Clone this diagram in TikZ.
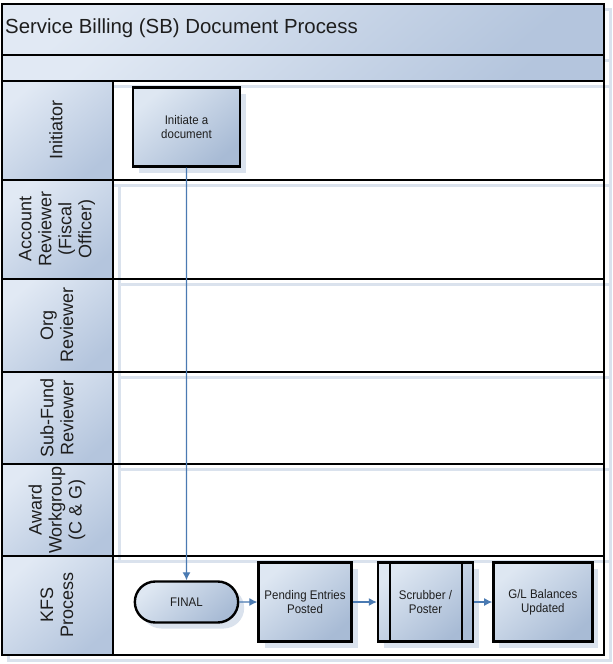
\documentclass[tikz,border=0pt]{standalone}
\usepackage{fontspec}
\setmainfont{Liberation Sans}
\newfontfamily\boxfont[FakeStretch=0.92]{Liberation Sans}
\usetikzlibrary{shapes,arrows.meta,positioning,shadows}
\definecolor{bandlight}{RGB}{225,233,244}
\definecolor{banddark}{RGB}{180,197,221}
\definecolor{boxlight}{RGB}{222,231,242}
\definecolor{boxdark}{RGB}{168,187,213}
\definecolor{shadowblue}{RGB}{218,226,237}
\definecolor{arrowblue}{RGB}{74,122,178}
\definecolor{textgray}{RGB}{30,30,30}
\tikzset{
    %Define standard arrow tip
    >={Latex[length=8pt,width=8pt]},
    %Define style for the bands and lane heads
    band/.style={
           draw=black,
           line width=2pt,
           top color=bandlight,
           bottom color=banddark,
           shading angle=40},
    lanebody/.style={
           draw=black,
           line width=2pt},
    laneshadow/.style={
           draw=shadowblue,
           line width=3pt},
    lanelabel/.style={
           rotate=90,
           align=center,
           text=textgray,
           font=\fontsize{18}{20}\selectfont},
    %Define style for boxes
    block/.style={
           rectangle,
           draw=black,
           line width=2.4pt,
           minimum width=107pt,
           minimum height=79pt,
           align=center,
           text=textgray,
           font=\boxfont\fontsize{12.5}{13.8}\selectfont,
           top color=boxlight,
           bottom color=boxdark,
           shading angle=40,
           drop shadow={shadow xshift=6pt, shadow yshift=-6pt,
                        fill=shadowblue, opacity=1}},
    terminal/.style={
           block,
           rounded rectangle,
           minimum width=110pt,
           minimum height=41pt},
    % Define arrow style
    arrow/.style={
           ->,
           draw=arrowblue,
           line width=1.2pt,
           }
}
\begin{document}
\begin{tikzpicture}[x=1pt, y=-1pt, node distance=18pt]
    \useasboundingbox (0,0) rectangle (613,664);
    \fill[white] (0,0) rectangle (613,664);

    % shadows of the lanes
    \draw[laneshadow] (8,9) rectangle (610,60);
    \draw[laneshadow] (8,60) rectangle (610,86);
    \draw[laneshadow] (8,86) rectangle (610,185);
    \draw[laneshadow] (119,185) rectangle (610,284);
    \draw[laneshadow] (119,284) rectangle (610,377);
    \draw[laneshadow] (119,377) rectangle (610,469);
    \draw[laneshadow] (119,469) rectangle (610,561);
    \draw[laneshadow] (8,561) rectangle (610,660);

    % title bands
    \draw[band] (2,4) rectangle (604,55);
    \draw[band] (2,55) rectangle (604,81);
    \node[anchor=west, inner sep=1pt, text=textgray,
          font=\fontsize{20.4}{23}\selectfont] (title) at (4,28)
          {Service Billing (SB) Document Process};

    % lanes
    \draw[band] (2,81) rectangle (113,180);
    \draw[lanebody] (113,81) rectangle (604,180);
    \draw[band] (2,180) rectangle (113,279);
    \draw[lanebody] (113,180) rectangle (604,279);
    \draw[band] (2,279) rectangle (113,372);
    \draw[lanebody] (113,279) rectangle (604,372);
    \draw[band] (2,372) rectangle (113,464);
    \draw[lanebody] (113,372) rectangle (604,464);
    \draw[band] (2,464) rectangle (113,556);
    \draw[lanebody] (113,464) rectangle (604,556);
    \draw[band] (2,556) rectangle (113,655);
    \draw[lanebody] (113,556) rectangle (604,655);

    \node[lanelabel] (Initiator) at (56,130) {Initiator};
    \node[lanelabel] (AccRev) at (57,229) {Account\\Reviewer\\(Fiscal\\Officer)};
    \node[lanelabel] (OrgRev) at (57,325) {Org\\Reviewer};
    \node[lanelabel] (SubRev) at (57,418) {Sub-Fund\\Reviewer};
    \node[lanelabel] (Award) at (57,510) {Award\\Workgroup\\(C \& G)};
    \node[lanelabel] (KFS) at (57,605) {KFS\\Process};

    % process steps
    \node [block] (init) at (186.5,127) {Initiate a\\document};
    \node [terminal] (final) at (186.5,602) {FINAL};
    \node [block, right=of final, minimum width=93pt] (pending) {Pending Entries\\Posted};
    \node [block, right=24pt of pending, minimum width=95pt] (scrub) {Scrubber /\\Poster};
    \node [block, right=of scrub, minimum width=99pt] (GL) {G/L Balances\\Updated};
    \draw[line width=2.4pt] ([xshift=13pt]scrub.north west) -- ([xshift=13pt]scrub.south west);
    \draw[line width=2.4pt] ([xshift=-12pt]scrub.north east) -- ([xshift=-12pt]scrub.south east);

    \path (init) edge[arrow] (final);
    \path (final) edge[arrow] (pending);
    \path (pending) edge[arrow] (scrub);
    \path (scrub) edge[arrow] (GL);
\end{tikzpicture}
\end{document}
